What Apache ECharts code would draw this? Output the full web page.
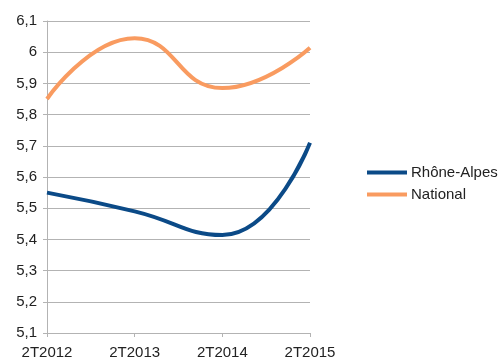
<!DOCTYPE html>
<html>
<head>
<meta charset="utf-8">
<script src="https://cdn.jsdelivr.net/npm/echarts@6/dist/echarts.min.js"></script>
<style>
  html, body { margin: 0; padding: 0; background: #fff; }
  #chart { width: 498px; height: 358px; }
</style>
</head>
<body>
<div id="chart"></div>
<script>
// Quarterly values, second quarter of each year
const categories = ['2T2012', '2T2013', '2T2014', '2T2015'];
const rhoneAlpes = [5.55, 5.49, 5.414, 5.71];
const national = [5.85, 6.045, 5.885, 6.014];
const seriesNames = ['Rhône-Alpes', 'National'];

const chart = echarts.init(document.getElementById('chart'), null, { renderer: 'canvas' });
const font = 'Liberation Sans, Arial, sans-serif';

chart.setOption({
  animation: false,
  backgroundColor: '#ffffff',
  grid: { left: 47, right: 188, top: 21, bottom: 25, containLabel: false, outerBoundsMode: 'none' },
  legend: {
    orient: 'vertical',
    left: 362,
    top: 160,
    itemWidth: 40,
    itemHeight: 4,
    itemGap: 7,
    icon: 'rect',
    textStyle: { fontFamily: font, fontSize: 15, color: '#222', padding: [0, 0, 0, -1] },
    data: seriesNames
  },
  xAxis: {
    type: 'category',
    data: categories,
    boundaryGap: false,
    axisLine: { lineStyle: { color: '#b3b3b3', width: 1 } },
    axisTick: { show: true, length: 4, lineStyle: { color: '#b3b3b3' } },
    axisLabel: { fontFamily: font, fontSize: 15, color: '#222', margin: 12 },
    splitLine: { show: false }
  },
  yAxis: {
    type: 'value',
    min: 5.1,
    max: 6.1,
    interval: 0.1,
    axisLine: { show: true, lineStyle: { color: '#b3b3b3', width: 1 } },
    axisTick: { show: true, length: 4, lineStyle: { color: '#b3b3b3' } },
    axisLabel: {
      fontFamily: font, fontSize: 15, color: '#222', margin: 10,
      formatter: v => (Math.round(v * 10) / 10).toString().replace('.', ',')
    },
    splitLine: { lineStyle: { color: '#b3b3b3', width: 1 } }
  },
  series: [
    {
      name: seriesNames[0],
      type: 'line',
      data: rhoneAlpes,
      smooth: 0.5,
      showSymbol: false,
      symbol: 'none',
      lineStyle: { color: '#0b4a87', width: 4 },
      itemStyle: { color: '#0b4a87' }
    },
    {
      name: seriesNames[1],
      type: 'line',
      data: national,
      smooth: 0.5,
      showSymbol: false,
      symbol: 'none',
      lineStyle: { color: '#f99b60', width: 4 },
      itemStyle: { color: '#f99b60' }
    }
  ]
});
</script>
</body>
</html>
